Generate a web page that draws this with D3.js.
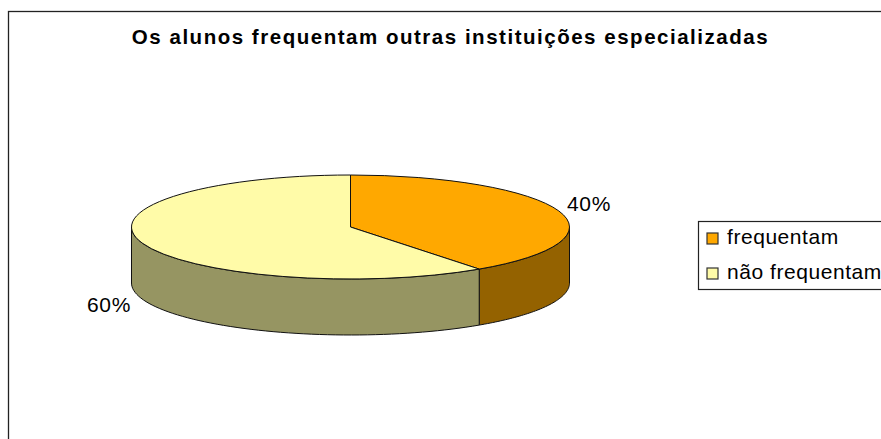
<!DOCTYPE html>
<html><head><meta charset="utf-8">
<script src="https://cdn.jsdelivr.net/npm/d3@7"></script>
<style>html,body{margin:0;padding:0;background:#fff;overflow:hidden}svg{display:block}text{font-family:"Liberation Sans",Arial,sans-serif;fill:#000}</style>
</head><body><svg id="c" width="881" height="439"></svg>
<script>
const categories=["frequentam","não frequentam"];
const values=[40,60];
const topColors=["#FFA800","#FFFBA8"];
const sideColors=["#946200","#969562"];
const title="Os alunos frequentam outras instituições especializadas";

const svg=d3.select("#c");
const cx=350.5,cy=227,rx=219,ry=52,depth=56;
svg.append("rect").attr("x",8.5).attr("y",11.5).attr("width",900).attr("height",460)
  .attr("fill","#fff").attr("stroke","#222").attr("stroke-width",1.3);
svg.append("text").attr("x",450.5).attr("y",44).attr("text-anchor","middle")
  .attr("font-size",20.5).attr("font-weight","bold").style("letter-spacing","1.52px").text(title);

const arcs=d3.pie().sort(null)(values);
const px=a=>cx+rx*Math.sin(a), py=a=>cy-ry*Math.cos(a);
const rim=d3.line().x(d=>d.x).y(d=>d.y);
function sidePath(a0,a1){
  const s=Math.max(a0,Math.PI/2),e=Math.min(a1,Math.PI*1.5);
  if(e<=s) return null;
  const pts=d3.range(0,61).map(i=>s+(e-s)*i/60);
  const up=pts.map(a=>({x:px(a),y:py(a)}));
  const down=pts.slice().reverse().map(a=>({x:px(a),y:py(a)+depth}));
  return rim(up.concat(down))+"Z";
}
const g=svg.append("g");
g.selectAll("path.side").data(arcs).join("path").attr("class","side")
  .attr("d",d=>sidePath(d.startAngle,d.endAngle))
  .attr("fill",(d,i)=>sideColors[i]).attr("stroke","#111").attr("stroke-width",1).attr("stroke-linejoin","round");
const arc=d3.arc().innerRadius(0).outerRadius(rx);
g.selectAll("path.top").data(arcs).join("path").attr("class","top")
  .attr("transform",`translate(${cx},${cy}) scale(1,${ry/rx})`)
  .attr("d",arc).attr("fill",(d,i)=>topColors[i])
  .attr("stroke","#111").attr("stroke-width",1).attr("vector-effect","non-scaling-stroke").attr("stroke-linejoin","round");

const labelPos=[[589,211],[109,312]];
svg.selectAll("text.pct").data(values).join("text").attr("class","pct")
  .attr("x",(d,i)=>labelPos[i][0]).attr("y",(d,i)=>labelPos[i][1]).attr("text-anchor","middle")
  .attr("font-size",21).style("letter-spacing","0.6px").text(d=>d+"%");

svg.append("rect").attr("x",698.5).attr("y",221.5).attr("width",200).attr("height",68)
  .attr("fill","#fff").attr("stroke","#222").attr("stroke-width",1.2);
const lg=svg.selectAll("g.leg").data(categories).join("g").attr("class","leg")
  .attr("transform",(d,i)=>`translate(0,${238+i*35})`);
lg.append("rect").attr("x",707).attr("y",-5).attr("width",11).attr("height",11)
  .attr("fill",(d,i)=>topColors[i]).attr("stroke","#333").attr("stroke-width",1.2);
lg.append("text").attr("x",727).attr("y",6).attr("font-size",21).style("letter-spacing","0.55px").text(d=>d);
</script></body></html>
